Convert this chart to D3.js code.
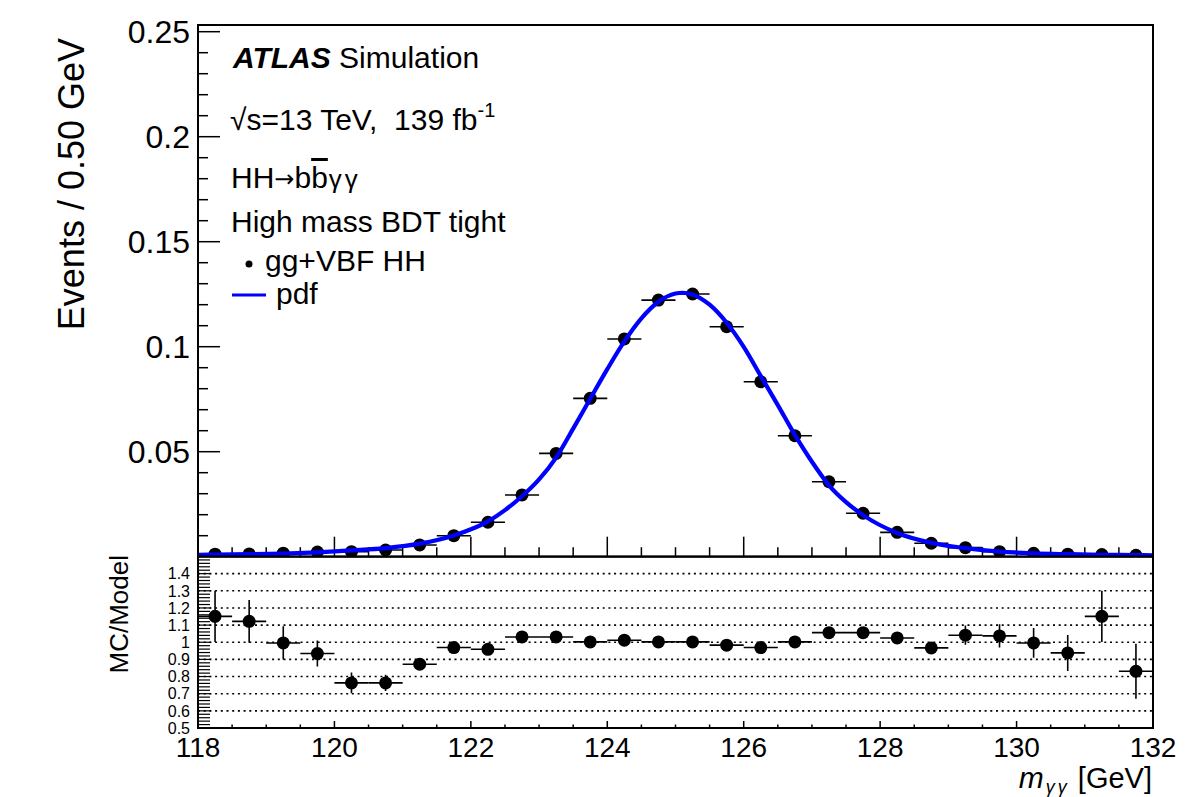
<!DOCTYPE html>
<html>
<head>
<meta charset="utf-8">
<script src="https://cdn.jsdelivr.net/npm/d3@7"></script>
<style>
  html, body { margin: 0; padding: 0; background: #fff; }
  svg { display: block; font-family: "Liberation Sans", Arial, Helvetica, sans-serif; }
</style>
</head>
<body>
<svg id="chart" width="1204" height="797"></svg>
<script>
// ---------------- data ----------------
const binCenters = [118.25, 118.75, 119.25, 119.75, 120.25, 120.75, 121.25, 121.75,
  122.25, 122.75, 123.25, 123.75, 124.25, 124.75, 125.25, 125.75, 126.25, 126.75,
  127.25, 127.75, 128.25, 128.75, 129.25, 129.75, 130.25, 130.75, 131.25, 131.75];
const binHalfWidth = 0.25;
const mcValues = [0.0012, 0.0013, 0.0017, 0.0022, 0.0024, 0.0032, 0.0056, 0.0100,
  0.0164, 0.0294, 0.0492, 0.0754, 0.1037, 0.1222, 0.1251, 0.1095, 0.0833, 0.0576,
  0.0357, 0.0207, 0.0116, 0.0064, 0.0043, 0.0024, 0.0016, 0.0012, 0.0010, 0.0007];
const ratioValues = [1.151, 1.122, 0.996, 0.934, 0.763, 0.763, 0.872, 0.969,
  0.959, 1.031, 1.031, 1.002, 1.012, 1.002, 1.002, 0.983, 0.969, 1.002,
  1.056, 1.056, 1.025, 0.967, 1.041, 1.037, 0.996, 0.938, 1.151, 0.831];
const ratioErrors = [0.15, 0.125, 0.097, 0.076, 0.060, 0.047, 0.030, 0.020,
  0.017, 0.013, 0.010, 0.008, 0.007, 0.006, 0.006, 0.007, 0.008, 0.010,
  0.013, 0.018, 0.024, 0.035, 0.056, 0.068, 0.087, 0.105, 0.150, 0.160];
const pdfX = [118, 118.25, 118.75, 119.25, 119.75, 120.25, 120.75, 121.25, 121.75, 122.25,
  122.5, 122.75, 123, 123.25, 123.5, 123.75, 124, 124.25, 124.5, 124.75, 125, 125.1,
  125.25, 125.5, 125.75, 126, 126.25, 126.5, 126.75, 127, 127.25, 127.5, 127.75,
  128.25, 128.75, 129.25, 129.75, 130.25, 130.75, 131.25, 131.75, 132];
const pdfY = [0.0009, 0.00105, 0.00118, 0.0015, 0.0021, 0.0030, 0.0041, 0.0062, 0.0101, 0.0168,
  0.0222, 0.0288, 0.0368, 0.0472, 0.0610, 0.0752, 0.0893, 0.1025, 0.1135, 0.1214, 0.1253, 0.1257,
  0.1249, 0.1200, 0.1114, 0.0999, 0.0860, 0.0722, 0.0580, 0.0452, 0.0340, 0.0260, 0.0198,
  0.0113, 0.0066, 0.0041, 0.0024, 0.0016, 0.0012, 0.0009, 0.0008, 0.0007];
const xTickValues = [118, 120, 122, 124, 126, 128, 130, 132];
const yTickValues = [0.05, 0.1, 0.15, 0.2, 0.25];
const yTickLabels = ["0.05", "0.1", "0.15", "0.2", "0.25"];
const ratioTickValues = [0.5, 0.6, 0.7, 0.8, 0.9, 1.0, 1.1, 1.2, 1.3, 1.4];
const ratioTickLabels = ["0.5", "0.6", "0.7", "0.8", "0.9", "1", "1.1", "1.2", "1.3", "1.4"];
const ratioGridValues = [0.6, 0.7, 0.8, 0.9, 1.0, 1.1, 1.2, 1.3, 1.4];

// ---------------- layout ----------------
const L = 198, R = 1153;
const mainTop = 25, mainBot = 556.7;
const ratTop = 556.5, ratBot = 728;

const svg = d3.select("#chart");
const x = d3.scaleLinear().domain([118, 132]).range([L, R]);
const y = d3.scaleLinear().domain([0, (mainBot - mainTop) / 2100]).range([mainBot, mainTop]);
const yr = d3.scaleLinear().domain([0.5, 1.5]).range([ratBot, ratTop]);

const defs = svg.append("defs");
defs.append("clipPath").attr("id", "clipMain").append("rect")
  .attr("x", L).attr("y", mainTop).attr("width", R - L).attr("height", mainBot - mainTop);
defs.append("clipPath").attr("id", "clipRat").append("rect")
  .attr("x", L).attr("y", ratTop).attr("width", R - L).attr("height", ratBot - ratTop);

// ---------------- main panel ----------------
const gMain = svg.append("g");

// y ticks (minor every 0.01, major every 0.05)
const yMinor = d3.range(1, 26).map(i => i * 0.01);
gMain.append("g").selectAll("line").data(yMinor).join("line")
  .attr("x1", L).attr("x2", (d, i) => ((i + 1) % 5 === 0) ? L + 22 : L + 10)
  .attr("y1", d => y(d)).attr("y2", d => y(d))
  .attr("stroke", "#000").attr("stroke-width", 1.5);
gMain.append("g").selectAll("text").data(yTickValues).join("text")
  .attr("x", 190).attr("y", d => y(d)).attr("dy", "0.36em")
  .attr("text-anchor", "end").attr("font-size", 32).text((d, i) => yTickLabels[i]);

// x ticks on bottom of main panel (minor every 0.5, major every 2)
const xMinor = d3.range(0, 29).map(i => 118 + i * 0.5);
gMain.append("g").selectAll("line").data(xMinor).join("line")
  .attr("x1", d => x(d)).attr("x2", d => x(d))
  .attr("y1", mainBot).attr("y2", (d, i) => (i % 4 === 0) ? mainBot - 20 : mainBot - 9.5)
  .attr("stroke", "#000").attr("stroke-width", 1.5);

// data points
const gPts = gMain.append("g").attr("clip-path", "url(#clipMain)");
gPts.selectAll("line.h").data(binCenters).join("line").attr("class", "h")
  .attr("x1", d => x(d - binHalfWidth)).attr("x2", d => x(d + binHalfWidth))
  .attr("y1", (d, i) => y(mcValues[i])).attr("y2", (d, i) => y(mcValues[i]))
  .attr("stroke", "#000").attr("stroke-width", 1.6);
gPts.selectAll("circle").data(binCenters).join("circle")
  .attr("cx", d => x(d)).attr("cy", (d, i) => y(mcValues[i])).attr("r", 6.5)
  .attr("fill", "#000");

// pdf curve
const line = d3.line().x(d => x(d[0])).y(d => y(d[1])).curve(d3.curveMonotoneX);
gPts.append("path").datum(pdfX.map((d, i) => [d, pdfY[i]]))
  .attr("d", line).attr("fill", "none").attr("stroke", "#0000ff").attr("stroke-width", 4.2);

// frame
gMain.append("rect").attr("x", L).attr("y", mainTop).attr("width", R - L).attr("height", mainBot - mainTop)
  .attr("fill", "none").attr("stroke", "#000").attr("stroke-width", 2);

// legend / labels
const leg = svg.append("g").attr("font-size", 30).attr("fill", "#000");
const t1 = leg.append("text").attr("x", 233).attr("y", 68);
t1.append("tspan").attr("font-weight", "bold").attr("font-style", "italic").text("ATLAS");
t1.append("tspan").text(" Simulation");
const t2 = leg.append("text").attr("x", 230).attr("y", 130);
t2.append("tspan").text("\u221As=13 TeV,\u00A0\u00A0139 fb");
t2.append("tspan").attr("font-size", 20).attr("dy", -13).text("-1");
const t3 = leg.append("text").attr("x", 231).attr("y", 188);
t3.append("tspan").text("HH");
t3.append("tspan").attr("font-family", "DejaVu Sans").attr("font-size", 24).attr("dy", -1).text("\u2192");
t3.append("tspan").attr("dy", 1).text("b");
t3.append("tspan").attr("text-decoration", "overline").text("b");
t3.append("tspan").attr("font-size", 26).attr("letter-spacing", 3).attr("dx", 1).text("\u03B3\u03B3");
leg.append("text").attr("x", 231).attr("y", 232).text("High mass BDT tight");
leg.append("circle").attr("cx", 249).attr("cy", 264).attr("r", 3.5).attr("fill", "#000");
leg.append("text").attr("x", 265).attr("y", 271).text("gg+VBF HH");
leg.append("line").attr("x1", 232).attr("x2", 266).attr("y1", 295).attr("y2", 295)
  .attr("stroke", "#0000ff").attr("stroke-width", 3);
leg.append("text").attr("x", 276).attr("y", 304).text("pdf");

// y title
svg.append("text").attr("transform", "translate(84,38) rotate(-90)")
  .attr("text-anchor", "end").attr("font-size", 36).text("Events / 0.50 GeV");

// ---------------- ratio panel ----------------
const gRat = svg.append("g");

// grid dotted
gRat.append("g").selectAll("line").data(ratioGridValues).join("line")
  .attr("x1", L).attr("x2", R).attr("y1", d => yr(d)).attr("y2", d => yr(d))
  .attr("stroke", "#000").attr("stroke-width", 1.6).attr("stroke-dasharray", "2,3.7");

// y ticks (every 0.02)
const rMinor = d3.range(1, 50).map(i => 0.5 + i * 0.02);
gRat.append("g").selectAll("line").data(rMinor).join("line")
  .attr("x1", L).attr("x2", (d, i) => ((i + 1) % 5 === 0) ? L + 13 : L + 12)
  .attr("y1", d => yr(d)).attr("y2", d => yr(d))
  .attr("stroke", "#000").attr("stroke-width", 1.2);
gRat.append("g").selectAll("text").data(ratioTickValues).join("text")
  .attr("x", 190).attr("y", d => yr(d)).attr("dy", "0.36em")
  .attr("text-anchor", "end").attr("font-size", 16).text((d, i) => ratioTickLabels[i]);

// x ticks at bottom of ratio
gRat.append("g").selectAll("line").data(xMinor).join("line")
  .attr("x1", d => x(d)).attr("x2", d => x(d))
  .attr("y1", ratBot).attr("y2", (d, i) => (i % 4 === 0) ? ratBot - 7 : ratBot - 3.5)
  .attr("stroke", "#000").attr("stroke-width", 1.5);

// ratio points
const gRP = gRat.append("g").attr("clip-path", "url(#clipRat)");
gRP.selectAll("line.h").data(binCenters).join("line").attr("class", "h")
  .attr("x1", d => x(d - binHalfWidth)).attr("x2", d => x(d + binHalfWidth))
  .attr("y1", (d, i) => yr(ratioValues[i])).attr("y2", (d, i) => yr(ratioValues[i]))
  .attr("stroke", "#000").attr("stroke-width", 1.6);
gRP.selectAll("line.v").data(binCenters).join("line").attr("class", "v")
  .attr("x1", d => x(d)).attr("x2", d => x(d))
  .attr("y1", (d, i) => yr(ratioValues[i] - ratioErrors[i]))
  .attr("y2", (d, i) => yr(ratioValues[i] + ratioErrors[i]))
  .attr("stroke", "#000").attr("stroke-width", 1.6);
gRP.selectAll("circle").data(binCenters).join("circle")
  .attr("cx", d => x(d)).attr("cy", (d, i) => yr(ratioValues[i])).attr("r", 6.5)
  .attr("fill", "#000");

// frame
gRat.append("rect").attr("x", L).attr("y", ratTop).attr("width", R - L).attr("height", ratBot - ratTop)
  .attr("fill", "none").attr("stroke", "#000").attr("stroke-width", 2);

// x tick labels
svg.append("g").selectAll("text").data(xTickValues).join("text")
  .attr("x", d => x(d)).attr("y", 757).attr("text-anchor", "middle")
  .attr("font-size", 28).text(d => d);

// ratio y title
svg.append("text").attr("transform", "translate(128,555) rotate(-90)")
  .attr("text-anchor", "end").attr("font-size", 26).text("MC/Model");

// x title
const xt = svg.append("text").attr("x", 1152).attr("y", 788).attr("text-anchor", "end").attr("font-size", 29);
xt.append("tspan").attr("font-style", "italic").attr("font-size", 30).text("m");
xt.append("tspan").attr("font-style", "italic").attr("font-size", 18).attr("dy", 5).attr("dx", 2)
  .attr("letter-spacing", 3).text("\u03B3\u03B3");
xt.append("tspan").attr("dy", -5).text("\u00A0[GeV]");
</script>
</body>
</html>
